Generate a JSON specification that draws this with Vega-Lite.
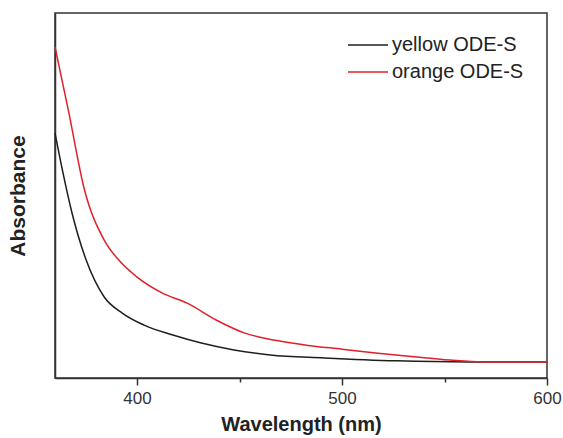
{
  "$schema": "https://vega.github.io/schema/vega-lite/v6.json",
  "width": 492,
  "height": 365,
  "autosize": {"type": "none"},
  "padding": {"left": 55, "top": 13, "right": 16, "bottom": 60},
  "background": "white",
  "config": {
    "view": {"stroke": "#333", "strokeWidth": 1.5},
    "font": "Liberation Sans"
  },
  "data": {
    "values": [
      {"wavelength": 360, "absorbance": 0.671, "sample": "yellow ODE-S"},
      {"wavelength": 363.9, "absorbance": 0.562, "sample": "yellow ODE-S"},
      {"wavelength": 368.3, "absorbance": 0.452, "sample": "yellow ODE-S"},
      {"wavelength": 375.2, "absorbance": 0.323, "sample": "yellow ODE-S"},
      {"wavelength": 384, "absorbance": 0.222, "sample": "yellow ODE-S"},
      {"wavelength": 392.8, "absorbance": 0.178, "sample": "yellow ODE-S"},
      {"wavelength": 403.4, "absorbance": 0.145, "sample": "yellow ODE-S"},
      {"wavelength": 417.5, "absorbance": 0.118, "sample": "yellow ODE-S"},
      {"wavelength": 431.4, "absorbance": 0.096, "sample": "yellow ODE-S"},
      {"wavelength": 447.3, "absorbance": 0.077, "sample": "yellow ODE-S"},
      {"wavelength": 465, "absorbance": 0.063, "sample": "yellow ODE-S"},
      {"wavelength": 491.3, "absorbance": 0.055, "sample": "yellow ODE-S"},
      {"wavelength": 526.5, "absorbance": 0.047, "sample": "yellow ODE-S"},
      {"wavelength": 561.5, "absorbance": 0.044, "sample": "yellow ODE-S"},
      {"wavelength": 600, "absorbance": 0.044, "sample": "yellow ODE-S"},
      {"wavelength": 360, "absorbance": 0.907, "sample": "orange ODE-S"},
      {"wavelength": 366.5, "absorbance": 0.734, "sample": "orange ODE-S"},
      {"wavelength": 374.4, "absorbance": 0.515, "sample": "orange ODE-S"},
      {"wavelength": 384, "absorbance": 0.378, "sample": "orange ODE-S"},
      {"wavelength": 391.1, "absorbance": 0.323, "sample": "orange ODE-S"},
      {"wavelength": 399.9, "absorbance": 0.277, "sample": "orange ODE-S"},
      {"wavelength": 412.2, "absorbance": 0.233, "sample": "orange ODE-S"},
      {"wavelength": 424.5, "absorbance": 0.205, "sample": "orange ODE-S"},
      {"wavelength": 438.6, "absorbance": 0.159, "sample": "orange ODE-S"},
      {"wavelength": 452.6, "absorbance": 0.123, "sample": "orange ODE-S"},
      {"wavelength": 466.6, "absorbance": 0.104, "sample": "orange ODE-S"},
      {"wavelength": 482.5, "absorbance": 0.090, "sample": "orange ODE-S"},
      {"wavelength": 500.1, "absorbance": 0.079, "sample": "orange ODE-S"},
      {"wavelength": 517.5, "absorbance": 0.068, "sample": "orange ODE-S"},
      {"wavelength": 535.1, "absorbance": 0.058, "sample": "orange ODE-S"},
      {"wavelength": 552.7, "absorbance": 0.049, "sample": "orange ODE-S"},
      {"wavelength": 568.7, "absorbance": 0.044, "sample": "orange ODE-S"},
      {"wavelength": 600, "absorbance": 0.044, "sample": "orange ODE-S"}
    ]
  },
  "resolve": {"axis": {"x": "independent"}},
  "layer": [
    {
      "mark": {"type": "line", "interpolate": "monotone", "strokeWidth": 0, "opacity": 0},
      "encoding": {
        "x": {
          "field": "wavelength",
          "type": "quantitative",
          "scale": {"domain": [360, 600], "nice": false, "zero": false},
          "axis": {
            "orient": "bottom",
            "title": null,
            "values": [450, 550],
            "labels": false,
            "domain": false,
            "grid": false,
            "tickSize": 4,
            "tickColor": "#333",
            "tickWidth": 1.5
          }
        },
        "y": {"field": "absorbance", "type": "quantitative"}
      }
    },
    {
      "mark": {"type": "line", "interpolate": "monotone", "strokeWidth": 1.5},
      "encoding": {
        "x": {
          "field": "wavelength",
          "type": "quantitative",
          "scale": {"domain": [360, 600], "nice": false, "zero": false},
          "axis": {
            "orient": "bottom",
            "title": "Wavelength (nm)",
            "values": [400, 500, 600],
            "grid": false,
            "domainColor": "#333",
            "domainWidth": 1.5,
            "tickColor": "#333",
            "tickWidth": 1.5,
            "tickSize": 7,
            "labelFontSize": 17,
            "labelColor": "#333",
            "labelPadding": 5,
            "labelFlush": false,
            "titleFontSize": 20,
            "titleFontWeight": "bold",
            "titleColor": "#222",
            "titlePadding": 8
          }
        },
        "y": {
          "field": "absorbance",
          "type": "quantitative",
          "scale": {"domain": [0, 1], "nice": false},
          "axis": {
            "title": "Absorbance",
            "labels": false,
            "ticks": false,
            "grid": false,
            "domainColor": "#333",
            "domainWidth": 1.5,
            "titleFontSize": 21,
            "titleFontWeight": "bold",
            "titleColor": "#222",
            "titlePadding": 27
          }
        },
        "color": {
          "field": "sample",
          "type": "nominal",
          "sort": ["yellow ODE-S", "orange ODE-S"],
          "scale": {"domain": ["yellow ODE-S", "orange ODE-S"], "range": ["#1e1e1e", "#e0202a"]},
          "legend": {
            "title": null,
            "orient": "none",
            "legendX": 292,
            "legendY": 22,
            "symbolType": "stroke",
            "symbolSize": 1600,
            "symbolStrokeWidth": 1.5,
            "labelFontSize": 20,
            "labelColor": "#222",
            "labelOffset": 3,
            "clipHeight": 20,
            "rowPadding": 7
          }
        }
      }
    }
  ]
}
